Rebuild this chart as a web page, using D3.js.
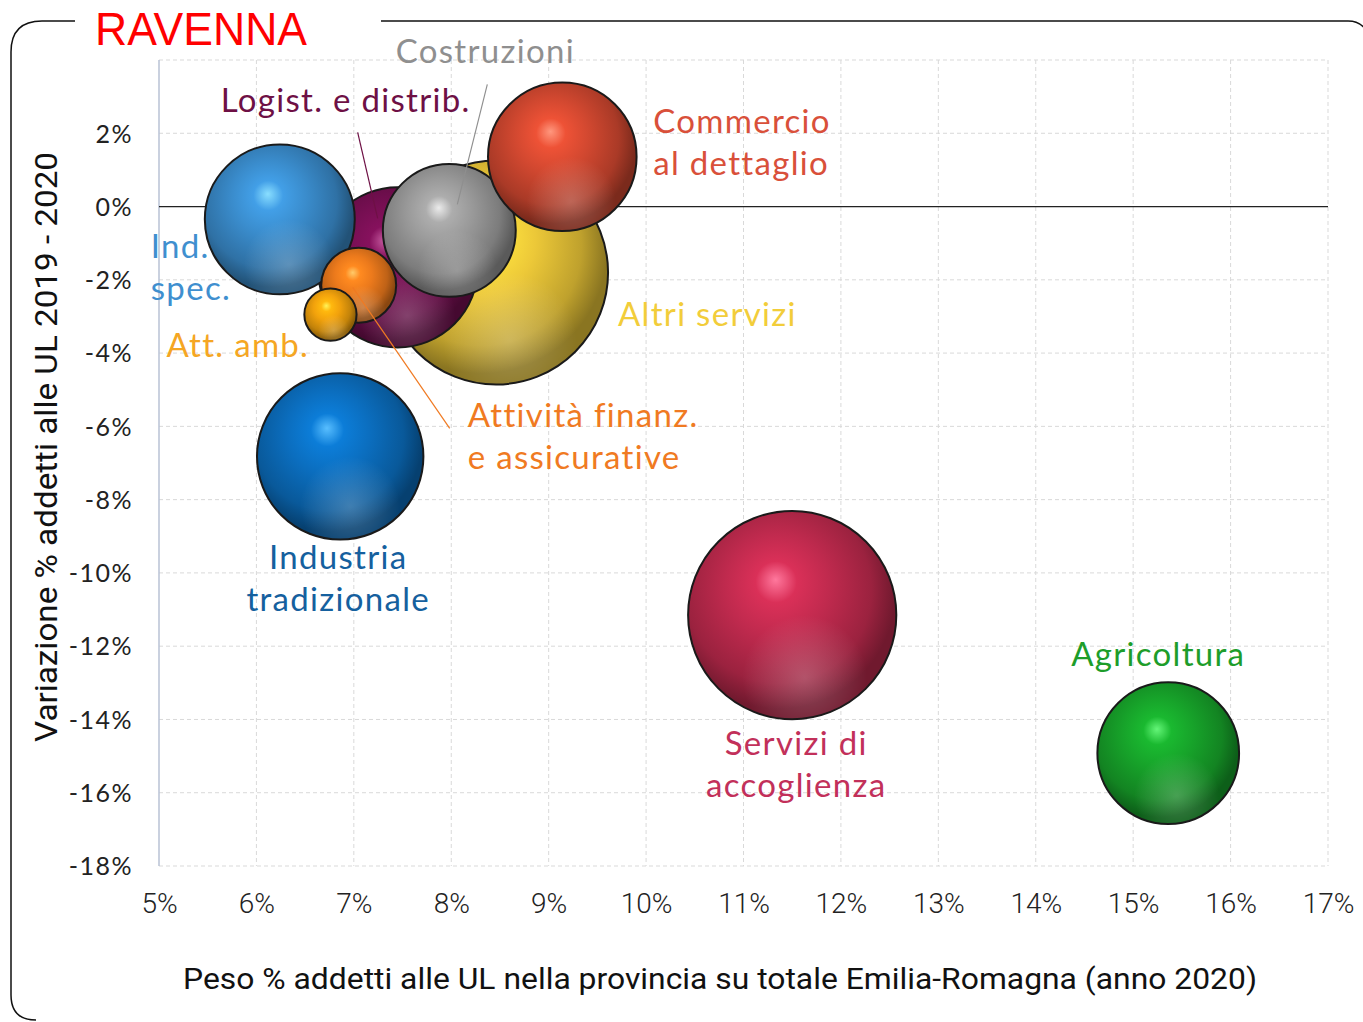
<!DOCTYPE html>
<html lang="it">
<head>
  <meta charset="UTF-8">
  <title>Ravenna - bubble chart</title>
  <script src="https://cdn.jsdelivr.net/npm/d3@7"></script>
  <style>
    body { margin: 0; background: #fff; }
    svg text { font-family: Lato, "Open Sans", sans-serif; }
    .tick text { fill: #222; }
  </style>
</head>
<body>
<svg id="chart" width="1363" height="1022"></svg>
<script>
  // settori economici
  const settori = ["Altri servizi", "Logist. e distrib.", "Ind. spec.", "Attività finanz. e assicurative",
    "Att. amb.", "Costruzioni", "Commercio al dettaglio", "Industria tradizionale",
    "Servizi di accoglienza", "Agricoltura"];
  // peso % addetti nella provincia su totale Emilia-Romagna (anno 2020)
  const peso = [8.46, 7.45, 6.24, 7.05, 6.76, 7.98, 9.14, 6.86, 11.50, 15.36];
  // variazione % addetti 2019 - 2020
  const variazione = [-1.80, -1.66, -0.35, -2.15, -2.95, -0.65, 1.36, -6.82, -11.15, -14.92];
  // dimensione della bolla
  const dimensione = [125, 64, 56, 14, 6.8, 44, 55, 69, 108, 50];

  const xTicks = [5, 6, 7, 8, 9, 10, 11, 12, 13, 14, 15, 16, 17];
  const yTicks = [-18, -16, -14, -12, -10, -8, -6, -4, -2, 0, 2];

  const bubbleColors = ["#ecc838", "#760f52", "#3a8ccc", "#ec7a1c", "#f2a20c", "#999999",
    "#d24830", "#0b6ebf", "#c02a4e", "#17a32a"];
  const labelColors = ["#f2cd3a", "#6e1045", "#3f8fcf", "#f07a22", "#f5a623", "#8f8f8f",
    "#d9503a", "#15609e", "#c2305a", "#1d9d2a"];

  // label placement relative to bubble centre (px)
  const labels = [
    { lines: ["Altri servizi"], dx: 122, dy: 42, anchor: "start" },
    { lines: ["Logist. e distrib."], dx: -52, dy: -167, anchor: "middle", leader: [-40, -135, -20, -49] },
    { lines: ["Ind.", "spec."], dx: -129, dy: 27, anchor: "start" },
    { lines: ["Attività finanz.", "e assicurative"], dx: 109, dy: 130, anchor: "start", leader: [-6, 2, 91, 143] },
    { lines: ["Att. amb."], dx: -164, dy: 31, anchor: "start" },
    { lines: ["Costruzioni"], dx: 36, dy: -179, anchor: "middle", leader: [38, -146, 8, -26] },
    { lines: ["Commercio", "al dettaglio"], dx: 91, dy: -35, anchor: "start" },
    { lines: ["Industria", "tradizionale"], dx: -2, dy: 101, anchor: "middle" },
    { lines: ["Servizi di", "accoglienza"], dx: 4, dy: 128, anchor: "middle" },
    { lines: ["Agricoltura"], dx: -10, dy: -99, anchor: "middle" }
  ];

  const svg = d3.select("#chart");
  const x = d3.scaleLinear().domain([5, 17]).range([159, 1328]);
  const y = d3.scaleLinear().domain([-18, 4]).range([866, 60]);
  const r = d3.scaleSqrt().domain([0, d3.max(dimensione)]).range([0, 112]);

  // frame
  svg.append("path")
    .attr("d", "M75,21 L42,21 Q11,21 11,52 L11,995 Q11,1020 36,1020")
    .attr("fill", "none").attr("stroke", "#111").attr("stroke-width", 1.5);
  svg.append("path")
    .attr("d", "M381,21 L1348,21 Q1360,21 1366,30")
    .attr("fill", "none").attr("stroke", "#111").attr("stroke-width", 1.5);

  svg.append("text")
    .attr("x", 95).attr("y", 45)
    .attr("fill", "#ff0000")
    .attr("textLength", 212).attr("lengthAdjust", "spacingAndGlyphs")
    .style("font-family", "'Liberation Sans', sans-serif")
    .style("font-size", "47px")
    .text("RAVENNA");

  // grid
  const grid = svg.append("g");
  grid.selectAll(".vg").data(xTicks.slice(1)).enter().append("line")
    .attr("x1", d => x(d)).attr("x2", d => x(d))
    .attr("y1", y(4)).attr("y2", y(-18))
    .attr("stroke", "#d9d9d9").attr("stroke-dasharray", "4,3");
  grid.selectAll(".hg").data(d3.range(-18, 5, 2)).enter().append("line")
    .attr("x1", x(5)).attr("x2", x(17))
    .attr("y1", d => y(d)).attr("y2", d => y(d))
    .attr("stroke", "#d9d9d9").attr("stroke-dasharray", "4,3");
  svg.append("line")
    .attr("x1", x(5)).attr("x2", x(5)).attr("y1", y(4)).attr("y2", y(-18))
    .attr("stroke", "#b8c2d4").attr("stroke-width", 1.5);
  svg.append("line")
    .attr("x1", x(5)).attr("x2", x(17)).attr("y1", y(0)).attr("y2", y(0))
    .attr("stroke", "#222").attr("stroke-width", 1.2);

  // axes
  const xAxis = svg.append("g")
    .attr("transform", `translate(0, ${y(-18)})`)
    .call(d3.axisBottom(x).tickValues(xTicks).tickSize(0).tickPadding(47).tickFormat(d => d + "%"));
  xAxis.select(".domain").remove();
  xAxis.selectAll("text").style("font-size", "28px").style("font-weight", "300")
    .style("font-family", "Roboto, sans-serif").attr("dy", "0");

  const yAxis = svg.append("g")
    .attr("transform", `translate(${x(5)}, 0)`)
    .call(d3.axisLeft(y).tickValues(yTicks).tickSize(0).tickPadding(26).tickFormat(d => d + "%"));
  yAxis.select(".domain").remove();
  yAxis.selectAll("text").style("font-size", "25px").style("letter-spacing", "1.5px").attr("dy", "0.35em");

  svg.append("text")
    .attr("x", 720).attr("y", 989)
    .attr("text-anchor", "middle")
    .attr("fill", "#111")
    .attr("textLength", 1074).attr("lengthAdjust", "spacingAndGlyphs")
    .style("font-family", "Roboto, sans-serif")
    .style("font-size", "30px")
    .text("Peso % addetti alle UL nella provincia su totale Emilia-Romagna (anno 2020)");

  svg.append("text")
    .attr("transform", "translate(57, 447) rotate(-90)")
    .attr("text-anchor", "middle")
    .attr("fill", "#111")
    .attr("textLength", 590).attr("lengthAdjust", "spacingAndGlyphs")
    .style("font-family", "Roboto, sans-serif")
    .style("font-size", "31px")
    .text("Variazione % addetti alle UL 2019 - 2020");

  // sphere gradients
  const defs = svg.append("defs");
  bubbleColors.forEach((c, i) => {
    const base = d3.color(c);
    const g = defs.append("radialGradient")
      .attr("id", "sfera" + i)
      .attr("cx", "0.44").attr("cy", "0.4").attr("r", "0.62")
      .attr("fx", "0.42").attr("fy", "0.33");
    g.append("stop").attr("offset", "0").attr("stop-color", d3.interpolateRgb(base.brighter(1.1), "#fff")(0.3));
    g.append("stop").attr("offset", "0.16").attr("stop-color", base.brighter(0.35));
    g.append("stop").attr("offset", "0.4").attr("stop-color", base);
    g.append("stop").attr("offset", "0.72").attr("stop-color", base.darker(0.6));
    g.append("stop").attr("offset", "0.9").attr("stop-color", base.darker(1.5));
  });
  // soft reflection in the lower half
  const refl = defs.append("radialGradient").attr("id", "riflesso")
    .attr("cx", "0.56").attr("cy", "0.8").attr("r", "0.3");
  refl.append("stop").attr("offset", "0").attr("stop-color", "#fff").attr("stop-opacity", 0.22);
  refl.append("stop").attr("offset", "1").attr("stop-color", "#fff").attr("stop-opacity", 0);

  const bolle = settori.map((s, i) => ({ s, i, px: x(peso[i]), py: y(variazione[i]), rr: r(dimensione[i]) }));

  const gb = svg.append("g").selectAll("g")
    .data(bolle)
    .enter()
    .append("g");
  gb.append("circle")
    .attr("cx", d => d.px)
    .attr("cy", d => d.py)
    .attr("r", d => d.rr)
    .attr("fill", d => `url(#sfera${d.i})`);
  gb.append("circle")
    .attr("cx", d => d.px)
    .attr("cy", d => d.py)
    .attr("r", d => d.rr)
    .attr("fill", "url(#riflesso)")
    .attr("stroke", "#1a1a1a")
    .attr("stroke-width", 2);

  // leader lines and labels
  bolle.forEach(d => {
    const L = labels[d.i];
    if (L.leader) {
      svg.append("line")
        .attr("x1", d.px + L.leader[0]).attr("y1", d.py + L.leader[1])
        .attr("x2", d.px + L.leader[2]).attr("y2", d.py + L.leader[3])
        .attr("stroke", labelColors[d.i]).attr("stroke-width", 1.2);
    }
    const t = svg.append("text")
      .attr("text-anchor", L.anchor)
      .attr("fill", labelColors[d.i])
      .style("font-size", "33px")
      .style("letter-spacing", "1.3px");
    L.lines.forEach((ln, k) => {
      t.append("tspan")
        .attr("x", d.px + L.dx)
        .attr("y", d.py + L.dy + k * 42)
        .attr("dy", "0.35em")
        .text(ln);
    });
  });
</script>
</body>
</html>
